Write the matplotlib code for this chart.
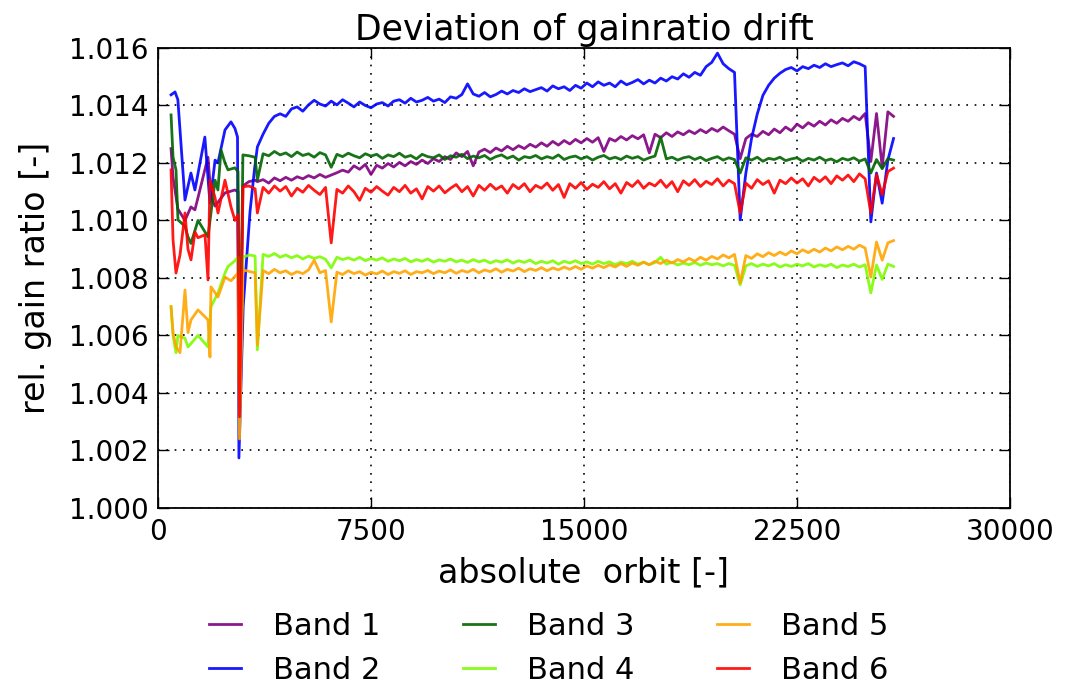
import numpy as np
import matplotlib
matplotlib.use('Agg')
import matplotlib.pyplot as plt

# orbit sampling of the steady part (after the commissioning phase)
orbit_grid = np.arange(3500, 26000, 200)

# --- Band 1 ---
band1_early_orbit = [460, 530, 700, 950, 1160, 1300, 1410, 1760, 1870, 2010, 2360, 2710, 2817, 2870, 2990, 3200, 3420]
band1_early = [1.01250, 1.01150, 1.01040, 1.01000, 1.01047, 1.01037, 1.01080, 1.01220, 1.01080, 1.01050,
               1.01096, 1.01106, 1.01100, 1.00320, 1.01120, 1.01135, 1.01140]
band1 = [1.01135, 1.01142, 1.01130, 1.01148, 1.01138, 1.01150, 1.01140, 1.01152, 1.01145, 1.01156,
         1.01148, 1.01160, 1.01150, 1.01158, 1.01166, 1.01175, 1.01168, 1.01190, 1.01178, 1.01195,
         1.01160, 1.01192, 1.01182, 1.01198, 1.01186, 1.01202, 1.01190, 1.01205, 1.01195, 1.01210,
         1.01198, 1.01215, 1.01205, 1.01222, 1.01212, 1.01235, 1.01222, 1.01240, 1.01190, 1.01238,
         1.01248, 1.01236, 1.01252, 1.01242, 1.01258, 1.01246, 1.01260, 1.01250, 1.01265, 1.01255,
         1.01270, 1.01258, 1.01275, 1.01262, 1.01278, 1.01266, 1.01282, 1.01270, 1.01285, 1.01272,
         1.01288, 1.01240, 1.01285, 1.01276, 1.01292, 1.01280, 1.01295, 1.01284, 1.01298, 1.01235,
         1.01300, 1.01288, 1.01305, 1.01292, 1.01308, 1.01298, 1.01312, 1.01302, 1.01316, 1.01305,
         1.01320, 1.01310, 1.01325, 1.01312, 1.01300, 1.01215, 1.01285, 1.01300, 1.01292, 1.01310,
         1.01298, 1.01318, 1.01305, 1.01325, 1.01312, 1.01335, 1.01322, 1.01340, 1.01328, 1.01345,
         1.01332, 1.01350, 1.01338, 1.01355, 1.01345, 1.01362, 1.01350, 1.01372, 1.01205, 1.01372,
         1.01185, 1.01378, 1.01362]

# --- Band 2 ---
band2_early_orbit = [460, 600, 700, 950, 1160, 1300, 1650, 1830, 2010, 2110, 2360, 2570, 2710, 2800, 2850, 3000, 3240, 3400]
band2_early = [1.01437, 1.01447, 1.01420, 1.01071, 1.01165, 1.01106, 1.01290, 1.01060, 1.01210, 1.01200,
               1.01315, 1.01343, 1.01320, 1.01290, 1.00174, 1.00700, 1.01030, 1.01180]
band2 = [1.01256, 1.01300, 1.01338, 1.01362, 1.01371, 1.01362, 1.01388, 1.01395, 1.01380, 1.01402,
         1.01418, 1.01405, 1.01398, 1.01415, 1.01402, 1.01420, 1.01408, 1.01395, 1.01412, 1.01400,
         1.01392, 1.01405, 1.01410, 1.01398, 1.01415, 1.01420, 1.01408, 1.01425, 1.01412, 1.01418,
         1.01428, 1.01415, 1.01422, 1.01410, 1.01430, 1.01425, 1.01438, 1.01475, 1.01440, 1.01432,
         1.01445, 1.01430, 1.01438, 1.01450, 1.01440, 1.01452, 1.01445, 1.01458, 1.01448, 1.01455,
         1.01462, 1.01450, 1.01468, 1.01458, 1.01465, 1.01452, 1.01470, 1.01460, 1.01478, 1.01465,
         1.01482, 1.01470, 1.01478, 1.01465, 1.01485, 1.01472, 1.01480, 1.01490, 1.01475, 1.01488,
         1.01478, 1.01495, 1.01485, 1.01500, 1.01492, 1.01510, 1.01498, 1.01515, 1.01505, 1.01535,
         1.01550, 1.01582, 1.01545, 1.01528, 1.01515, 1.01002, 1.01165, 1.01285, 1.01370, 1.01435,
         1.01470, 1.01495, 1.01512, 1.01525, 1.01532, 1.01520, 1.01535, 1.01528, 1.01540, 1.01532,
         1.01545, 1.01535, 1.01542, 1.01548, 1.01538, 1.01552, 1.01545, 1.01535, 1.00995, 1.01165,
         1.01060, 1.01210, 1.01285]

# --- Band 3 ---
band3_early_orbit = [460, 530, 634, 704, 950, 1056, 1160, 1410, 1760, 2010, 2110, 2220, 2360, 2465, 2710, 2817, 2870, 2990, 3200, 3420]
band3_early = [1.01367, 1.01220, 1.01176, 1.01002, 1.00980, 1.00943, 1.00920, 1.01000, 1.00943, 1.01140,
               1.01106, 1.01245, 1.01200, 1.01176, 1.01183, 1.01170, 1.00310, 1.01228, 1.01225, 1.01220]
band3 = [1.01140, 1.01232, 1.01225, 1.01240, 1.01228, 1.01235, 1.01222, 1.01238, 1.01226, 1.01232,
         1.01220, 1.01236, 1.01228, 1.01185, 1.01230, 1.01222, 1.01234, 1.01225, 1.01218, 1.01232,
         1.01224, 1.01230, 1.01216, 1.01228, 1.01222, 1.01234, 1.01220, 1.01226, 1.01214, 1.01230,
         1.01222, 1.01218, 1.01228, 1.01212, 1.01225, 1.01220, 1.01230, 1.01215, 1.01224, 1.01218,
         1.01226, 1.01212, 1.01222, 1.01228, 1.01216, 1.01224, 1.01210, 1.01222, 1.01218, 1.01226,
         1.01214, 1.01222, 1.01216, 1.01228, 1.01212, 1.01220, 1.01224, 1.01214, 1.01222, 1.01210,
         1.01220, 1.01226, 1.01214, 1.01220, 1.01212, 1.01224, 1.01216, 1.01222, 1.01210, 1.01218,
         1.01224, 1.01290, 1.01214, 1.01220, 1.01210, 1.01218, 1.01222, 1.01212, 1.01220, 1.01208,
         1.01216, 1.01222, 1.01210, 1.01218, 1.01212, 1.01165, 1.01218, 1.01210, 1.01220, 1.01206,
         1.01216, 1.01212, 1.01220, 1.01208, 1.01214, 1.01218, 1.01206, 1.01216, 1.01210, 1.01220,
         1.01208, 1.01214, 1.01204, 1.01216, 1.01210, 1.01218, 1.01206, 1.01214, 1.01165, 1.01212,
         1.01180, 1.01215, 1.01210]

# --- Band 4 ---
band4_early_orbit = [460, 530, 634, 704, 951, 1056, 1408, 1761, 1866, 2113, 2359, 2465, 2711, 2817, 2870, 2993, 3239, 3420]
band4_early = [1.00700, 1.00600, 1.00540, 1.00600, 1.00590, 1.00560, 1.00600, 1.00560, 1.00700, 1.00748,
               1.00817, 1.00840, 1.00860, 1.00873, 1.00330, 1.00873, 1.00880, 1.00876]
band4 = [1.00550, 1.00882, 1.00875, 1.00885, 1.00872, 1.00880, 1.00870, 1.00878, 1.00866, 1.00876,
         1.00868, 1.00874, 1.00865, 1.00835, 1.00872, 1.00864, 1.00870, 1.00862, 1.00872, 1.00860,
         1.00868, 1.00862, 1.00870, 1.00858, 1.00866, 1.00860, 1.00868, 1.00856, 1.00864, 1.00858,
         1.00866, 1.00855, 1.00863, 1.00858, 1.00866, 1.00856, 1.00862, 1.00854, 1.00864, 1.00856,
         1.00862, 1.00852, 1.00860, 1.00855, 1.00863, 1.00852, 1.00860, 1.00854, 1.00862, 1.00850,
         1.00858, 1.00852, 1.00860, 1.00848, 1.00858, 1.00852, 1.00860, 1.00850, 1.00856, 1.00848,
         1.00858, 1.00850, 1.00856, 1.00846, 1.00855, 1.00850, 1.00858, 1.00848, 1.00855, 1.00846,
         1.00854, 1.00872, 1.00848, 1.00855, 1.00845, 1.00852, 1.00846, 1.00854, 1.00844, 1.00852,
         1.00846, 1.00850, 1.00842, 1.00850, 1.00844, 1.00776, 1.00842, 1.00850, 1.00840, 1.00848,
         1.00842, 1.00850, 1.00838, 1.00846, 1.00840, 1.00848, 1.00842, 1.00850, 1.00838, 1.00846,
         1.00840, 1.00848, 1.00836, 1.00845, 1.00840, 1.00848, 1.00838, 1.00846, 1.00748, 1.00845,
         1.00795, 1.00848, 1.00840]

# --- Band 5 ---
band5_early_orbit = [460, 530, 634, 775, 951, 1056, 1162, 1408, 1655, 1761, 1831, 1866, 2113, 2359, 2570, 2817, 2870, 2993, 3239, 3420]
band5_early = [1.00700, 1.00610, 1.00560, 1.00540, 1.00758, 1.00610, 1.00654, 1.00689, 1.00665, 1.00654,
               1.00525, 1.00769, 1.00734, 1.00803, 1.00790, 1.00817, 1.00240, 1.00828, 1.00822, 1.00818]
band5 = [1.00567, 1.00826, 1.00815, 1.00830, 1.00818, 1.00825, 1.00812, 1.00822, 1.00815, 1.00828,
         1.00862, 1.00818, 1.00826, 1.00647, 1.00820, 1.00812, 1.00825, 1.00815, 1.00822, 1.00810,
         1.00820, 1.00814, 1.00824, 1.00812, 1.00822, 1.00816, 1.00825, 1.00812, 1.00822, 1.00818,
         1.00826, 1.00815, 1.00824, 1.00818, 1.00828, 1.00816, 1.00826, 1.00820, 1.00830, 1.00818,
         1.00828, 1.00822, 1.00832, 1.00820, 1.00830, 1.00824, 1.00834, 1.00822, 1.00832, 1.00826,
         1.00836, 1.00825, 1.00835, 1.00828, 1.00838, 1.00830, 1.00840, 1.00830, 1.00842, 1.00834,
         1.00844, 1.00836, 1.00846, 1.00838, 1.00850, 1.00840, 1.00852, 1.00844, 1.00855, 1.00846,
         1.00858, 1.00850, 1.00862, 1.00852, 1.00864, 1.00856, 1.00868, 1.00858, 1.00872, 1.00862,
         1.00875, 1.00866, 1.00880, 1.00870, 1.00882, 1.00783, 1.00878, 1.00868, 1.00884, 1.00874,
         1.00888, 1.00878, 1.00890, 1.00880, 1.00894, 1.00884, 1.00898, 1.00888, 1.00900, 1.00890,
         1.00904, 1.00894, 1.00908, 1.00898, 1.00910, 1.00900, 1.00914, 1.00904, 1.00803, 1.00925,
         1.00862, 1.00922, 1.00930]

# --- Band 6 ---
band6_early_orbit = [460, 530, 634, 775, 951, 1056, 1162, 1303, 1408, 1655, 1761, 1830, 2007, 2113, 2359, 2570, 2711, 2817, 2870, 2993, 3200, 3420]
band6_early = [1.01176, 1.00932, 1.00817, 1.00880, 1.01026, 1.00900, 1.00863, 1.00960, 1.00940, 1.00950,
               1.00793, 1.01140, 1.01080, 1.01026, 1.01140, 1.01047, 1.01000, 1.01020, 1.00317, 1.01117,
               1.01120, 1.01110]
band6 = [1.01026, 1.01115, 1.01095, 1.01120, 1.01102, 1.01118, 1.01085, 1.01112, 1.01098, 1.01122,
         1.01105, 1.01090, 1.01115, 1.00922, 1.01108, 1.01095, 1.01120, 1.01100, 1.01070, 1.01112,
         1.01098, 1.01118, 1.01102, 1.01088, 1.01115, 1.01100, 1.01122, 1.01095, 1.01110, 1.01075,
         1.01118, 1.01102, 1.01120, 1.01096, 1.01112, 1.01125, 1.01100, 1.01118, 1.01085, 1.01122,
         1.01105, 1.01126, 1.01108, 1.01120, 1.01095, 1.01125, 1.01110, 1.01128, 1.01100, 1.01122,
         1.01112, 1.01130, 1.01105, 1.01125, 1.01080, 1.01128, 1.01112, 1.01132, 1.01108, 1.01126,
         1.01115, 1.01135, 1.01110, 1.01128, 1.01095, 1.01132, 1.01118, 1.01138, 1.01112, 1.01130,
         1.01120, 1.01140, 1.01115, 1.01135, 1.01100, 1.01138, 1.01122, 1.01142, 1.01118, 1.01136,
         1.01125, 1.01145, 1.01120, 1.01140, 1.01128, 1.01026, 1.01130, 1.01112, 1.01142, 1.01125,
         1.01138, 1.01095, 1.01140, 1.01128, 1.01148, 1.01130, 1.01145, 1.01120, 1.01150, 1.01135,
         1.01152, 1.01128, 1.01155, 1.01140, 1.01158, 1.01135, 1.01162, 1.01145, 1.01026, 1.01160,
         1.01090, 1.01170, 1.01182]

labels = ['Band 1', 'Band 2', 'Band 3', 'Band 4', 'Band 5', 'Band 6']
colors = ['purple', 'blue', 'darkgreen', 'lawngreen', 'orange', 'red']
early_orbits = [band1_early_orbit, band2_early_orbit, band3_early_orbit,
                band4_early_orbit, band5_early_orbit, band6_early_orbit]
early_vals = [band1_early, band2_early, band3_early, band4_early, band5_early, band6_early]
steady_vals = [band1, band2, band3, band4, band5, band6]

fig = plt.figure(figsize=(10.74, 6.97), dpi=100)
ax = fig.add_axes([0.1471, 0.2712, 0.7933, 0.66])

for lab, col, xo, ye, ys in zip(labels, colors, early_orbits, early_vals, steady_vals):
    x = np.concatenate([xo, orbit_grid])
    y = np.concatenate([ye, ys])
    ax.plot(x, y, color=col, lw=2.0, alpha=0.9, label=lab)

ax.set_xlim(0, 30000)
ax.set_ylim(1.000, 1.016)
ax.set_xticks([0, 7500, 15000, 22500, 30000])
ax.set_yticks(np.arange(1.000, 1.0161, 0.002))
ax.yaxis.set_major_formatter(plt.FormatStrFormatter('%.3f'))
ax.tick_params(direction='in', length=8, width=1, top=True, right=True, labelsize=20, pad=7)
ax.grid(True, color='k', linestyle=(0, (1, 4)), linewidth=1.2)
for s in ax.spines.values():
    s.set_linewidth(1.3)

ax.set_title('Deviation of gainratio drift', fontsize=25, pad=6)
ax.set_xlabel('absolute  orbit [-]', fontsize=24, labelpad=8)
ax.set_ylabel('rel. gain ratio [-]', fontsize=24, labelpad=12)

fig.legend(loc='lower center', bbox_to_anchor=(0.511, -0.022), ncol=3, frameon=False,
           fontsize=22, handlelength=1.05, handletextpad=1.05, columnspacing=2.7,
           labelspacing=0.5)

fig.savefig('out.png', dpi=100)
